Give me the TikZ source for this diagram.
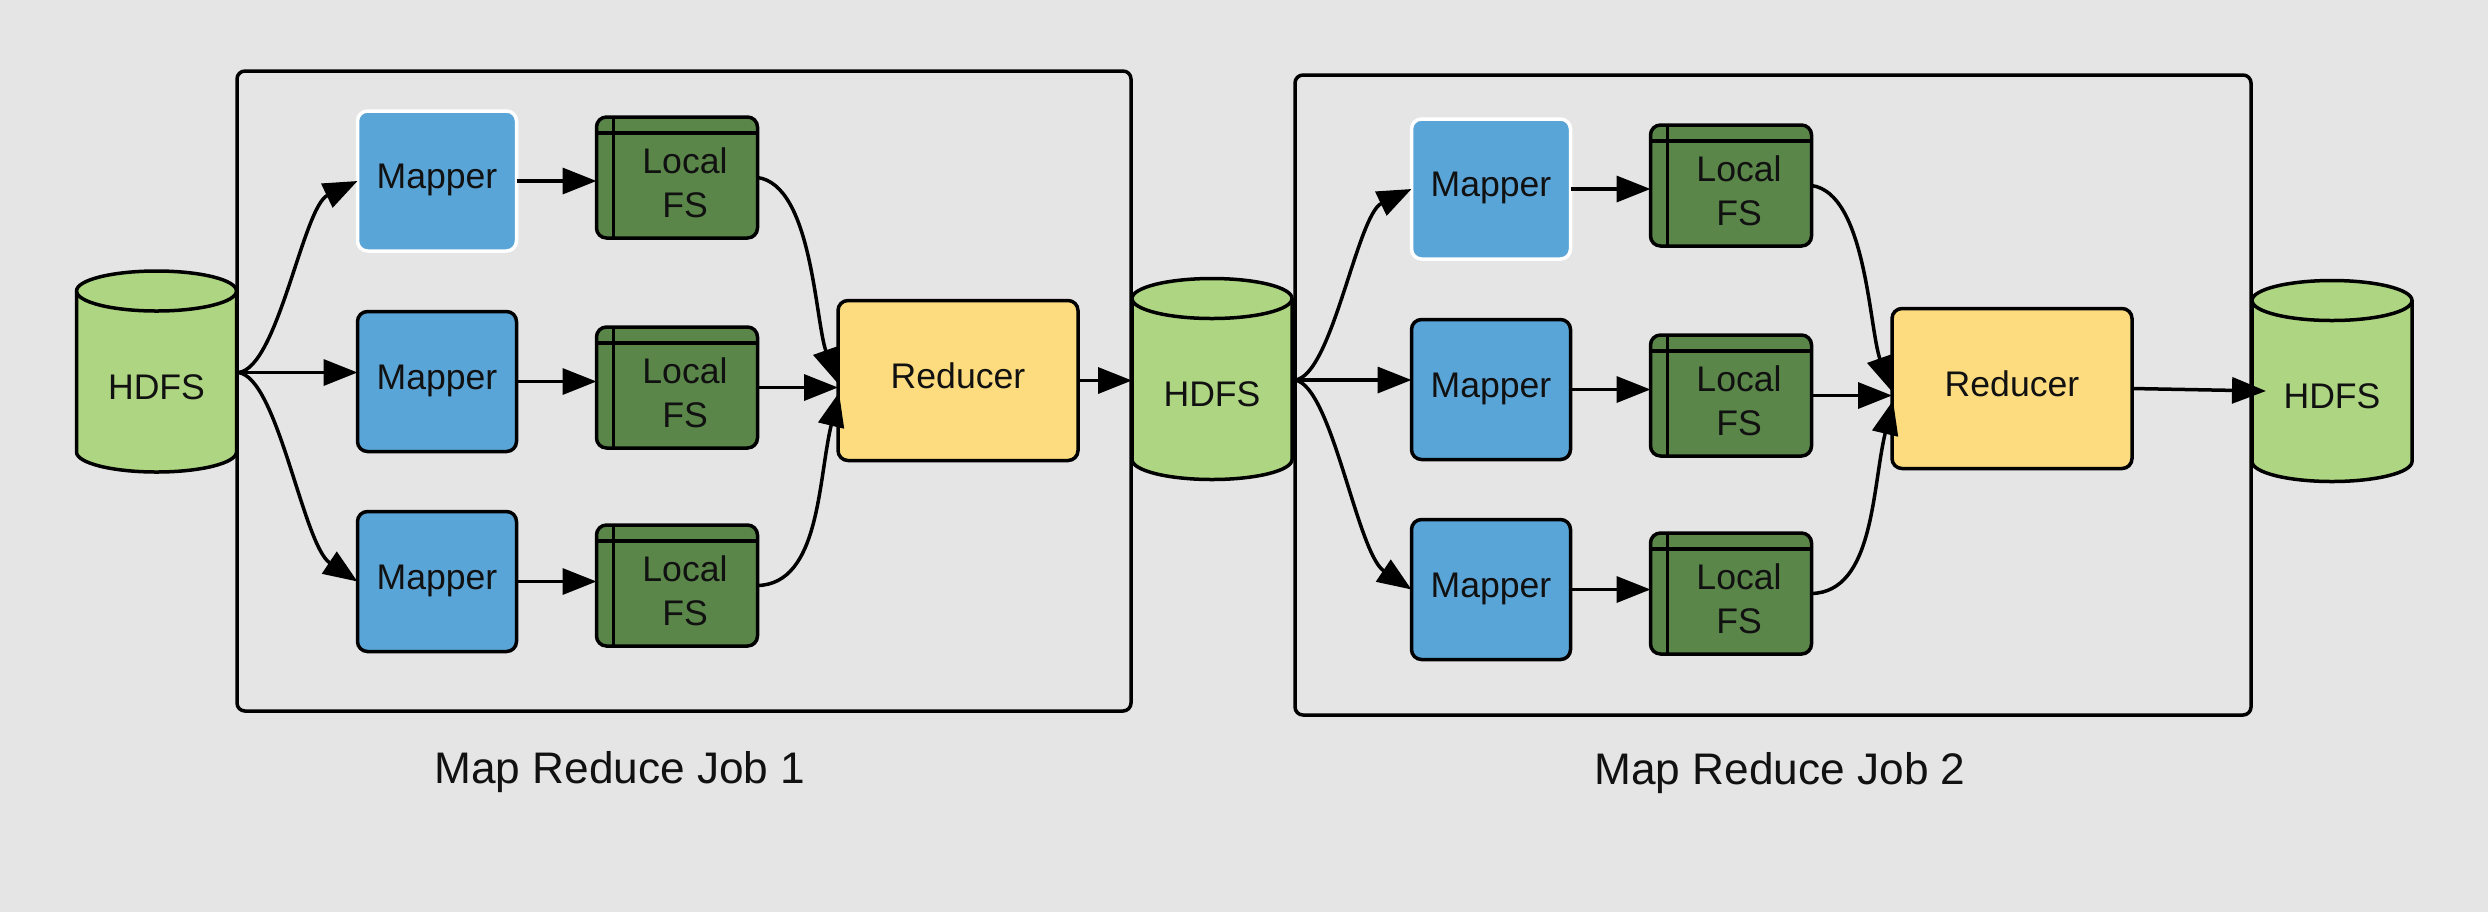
\documentclass[tikz,border=0pt]{standalone}
\usepackage{fontspec}
\setmainfont{Liberation Sans}
\usetikzlibrary{arrows.meta,calc}
\definecolor{bgc}{HTML}{E5E5E5}
\definecolor{mapc}{HTML}{5AA5D8}
\definecolor{fsc}{HTML}{5A8649}
\definecolor{redc}{HTML}{FCDC7E}
\definecolor{hdfsc}{HTML}{AED581}
\definecolor{txtc}{HTML}{111111}
\tikzset{
  every node/.style={outer sep=0pt,inner sep=0pt,text=txtc},
  lw/.style={line width=1.75pt},
  jobbox/.style={lw,draw=black,rectangle,rounded corners=4pt,minimum width=447pt,minimum height=320pt},
  jobbox2/.style={jobbox,minimum width=478pt},
  mapbox/.style={lw,draw=black,fill=mapc,rectangle,rounded corners=5pt,minimum width=79.5pt,minimum height=70pt,
    label={[font=\fontsize{17.8}{22}\selectfont,yshift=0.3pt]center:Mapper}},
  mapwhite/.style={mapbox,draw=white},
  fsbox/.style={lw,draw=black,fill=fsc,rectangle,rounded corners=5pt,minimum width=80.5pt,minimum height=60.5pt,
    label={[font=\fontsize{17.8}{22}\selectfont,align=center,xshift=4pt,yshift=-2.8pt]center:Local\\FS}},
  redbox/.style={lw,draw=black,fill=redc,rectangle,rounded corners=5pt,minimum width=120pt,minimum height=80pt,
    label={[font=\fontsize{17.8}{22}\selectfont,yshift=2.3pt]center:Reducer}},
  cylbody/.style={lw,draw=black,fill=hdfsc},
  cylnode/.style={rectangle,minimum width=80pt,minimum height=101pt,
    label={[font=\fontsize{17.8}{22}\selectfont,yshift=-7.8pt]center:HDFS}},
  jobtitle/.style={font=\fontsize{22.1}{26}\selectfont},
  conn/.style={lw,draw=black,-{Triangle[length=17pt,width=13pt]}},
  fsline/.style={line width=1.6pt,draw=black},
}
\newcommand\cylshape[3]{%
  \begin{scope}[shift={(#2,#3)}]
    \path[cylbody] (-80,-80.5) -- (-80,80.5)
      arc[start angle=180,end angle=360,x radius=40pt,y radius=10pt] -- (80,-80.5)
      arc[start angle=0,end angle=180,x radius=40pt,y radius=10pt] -- cycle;
    \draw[lw] (-80,-80.5) arc[start angle=180,end angle=360,x radius=40pt,y radius=10pt];
    \node[cylnode] (#1) at (0,0) {};
  \end{scope}}
\begin{document}
\begin{tikzpicture}[x=0.5pt,y=-0.5pt]
  \fill[bgc] (0,0) rectangle (2488,912);
  \node[jobbox] (job1) at (684,391) {};
  \node[jobbox2] (job2) at (1773,395) {};
  \node[jobtitle] (t1) at (620,772.5) {Map Reduce Job 1};
  \node[jobtitle] (t2) at (1780,773.5) {Map Reduce Job 2};
  \cylshape{h1}{156.5}{371.5}
  \cylshape{h2}{1212}{379}
  \cylshape{h3}{2332}{381}
  \foreach \j/\dx/\dy/\sx/\k in {1/0/0/1/h1,2/1054/8/1.5/h2}{
    \begin{scope}[shift={(\dx,\dy)}]
      \node[mapwhite] (m\j a) at (437,181) {};
      \node[mapbox] (m\j b) at (437,381.5) {};
      \node[mapbox] (m\j c) at (437,581.5) {};
      \node[fsbox] (f\j a) at (677,177.5) {};
      \node[fsbox] (f\j b) at (677,387.5) {};
      \node[fsbox] (f\j c) at (677,585.5) {};
      \foreach \q in {a,b,c}{
        \draw[fsline] ([yshift=-8pt]f\j\q.north west) -- ([yshift=-8pt]f\j\q.north east);
        \draw[fsline] ([xshift=8.5pt]f\j\q.north west) -- ([xshift=8.5pt]f\j\q.south west);
        \draw[conn] (m\j\q.east) -- (m\j\q.east -| f\j\q.west);
      }
      \node[redbox] (r\j) at (958,380.5) {};
      \draw[conn] ([xshift=\sx pt,yshift=-0.5pt]\k.east) .. controls (278,368) and (303,207) .. (m\j a.west);
      \draw[conn] ([xshift=\sx pt,yshift=-0.5pt]\k.east) -- ([yshift=-0.5pt]\k.east -| m\j b.west);
      \draw[conn] ([xshift=\sx pt,yshift=-0.5pt]\k.east) .. controls (278,378) and (303,545) .. (m\j c.west);
      \draw[conn] (f\j a.east) .. controls (812,185) and (815,320) .. ([xshift=-0.5pt,yshift=-1pt]r\j.west);
      \draw[conn] (f\j b.east) -- (f\j b.east -| r\j.west);
      \draw[conn] (f\j c.east) .. controls (820,584) and (818,480) .. ([xshift=0.5pt,yshift=-6pt]r\j.west);
    \end{scope}
  }
  \draw[conn] (r1.east) -- (h2.west |- r1.east);
  \draw[conn] (r2.east) -- ([xshift=7pt,yshift=-5pt]h3.west);
\end{tikzpicture}
\end{document}
